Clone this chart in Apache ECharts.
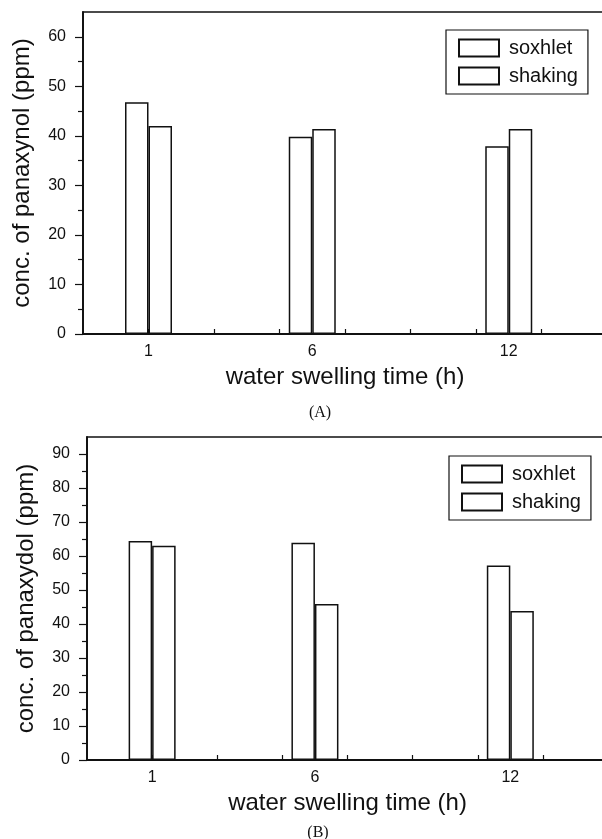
<!DOCTYPE html>
<html>
<head>
<meta charset="utf-8">
<script src="https://cdn.jsdelivr.net/npm/echarts@6/dist/echarts.min.js"></script>
<style>
  html, body { margin: 0; padding: 0; background: #fff; }
  #chart { width: 602px; height: 839px; }
</style>
</head>
<body>
<div id="chart"></div>
<script>
// 数据
var hours = [1, 6, 12];
var seriesNames = ['soxhlet', 'shaking'];
var soxhletA = [46.8, 39.8, 37.9];
var shakingA = [42.0, 41.4, 41.4];
var soxhletB = [64.4, 63.9, 57.2];
var shakingB = [63.0, 45.9, 43.8];

var xTicks = [1, 3, 5, 7, 9, 11, 13];
var yTicksA = [0, 10, 20, 30, 40, 50, 60];
var yMinorA = [5, 15, 25, 35, 45, 55];
var yTicksB = [0, 10, 20, 30, 40, 50, 60, 70, 80, 90];
var yMinorB = [5, 15, 25, 35, 45, 55, 65, 75, 85];

var FONT = '"Liberation Sans", Arial, sans-serif';
var INK = '#111';

function pairs(xs, ys) {
  return xs.map(function (x, i) { return [x, ys[i]]; });
}

function xAxisFor(gi) {
  return {
    type: 'value', gridIndex: gi, min: -1, max: 15,
    name: 'water swelling time (h)', nameLocation: 'middle', nameGap: 31,
    nameTextStyle: { fontFamily: FONT, fontSize: 24, color: INK },
    axisLine: { show: true, onZero: false, lineStyle: { color: INK, width: 1.8 } },
    axisTick: { show: true, inside: true, length: 5, customValues: xTicks, lineStyle: { color: INK, width: 1.2 } },
    axisLabel: { customValues: hours, margin: 10, fontFamily: FONT, fontSize: 16, color: INK },
    splitLine: { show: false }
  };
}

function yAxisFor(gi, max, ticks, name) {
  return {
    type: 'value', gridIndex: gi, position: 'left', min: 0, max: max,
    name: name, nameLocation: 'middle', nameGap: 49,
    nameTextStyle: { fontFamily: FONT, fontSize: 24, color: INK },
    axisLine: { show: true, onZero: false, lineStyle: { color: INK, width: 1.5 } },
    axisTick: { show: true, length: 8, customValues: ticks, lineStyle: { color: INK, width: 1.2 } },
    axisLabel: { customValues: ticks, margin: 17, fontFamily: FONT, fontSize: 16, color: INK },
    splitLine: { show: false }
  };
}

// 次刻度（5, 15, 25 ...）用第二根 y 轴画
function minorAxisFor(gi, max, ticks) {
  return {
    type: 'value', gridIndex: gi, position: 'left', min: 0, max: max,
    axisLine: { show: true, onZero: false, lineStyle: { color: INK, width: 1.5 } },
    axisTick: { show: true, length: 5, customValues: ticks, lineStyle: { color: INK, width: 1.2 } },
    axisLabel: { show: false },
    splitLine: { show: false }
  };
}

function barSeries(name, xi, yi, data) {
  return {
    name: name, type: 'bar', xAxisIndex: xi, yAxisIndex: yi,
    barWidth: 23.5, barGap: '0%',
    itemStyle: { color: '#fff', borderColor: INK, borderWidth: 1.5 },
    data: data
  };
}

function legendFor(left, top) {
  return {
    data: seriesNames, orient: 'vertical', left: left, top: top,
    icon: 'rect', itemWidth: 40, itemHeight: 17, itemGap: 8,
    padding: [8, 10, 8, 12],
    borderColor: INK, borderWidth: 1.2, backgroundColor: '#fff',
    selectedMode: false,
    textStyle: { fontFamily: FONT, fontSize: 20, color: INK, lineHeight: 17, padding: [0, 0, 0, 5] }
  };
}

var chart = echarts.init(document.getElementById('chart'));

var option = {
  animation: false,
  backgroundColor: '#fff',
  title: [
    { text: '(A)', left: 315, top: 400, textAlign: 'center',
      textStyle: { fontFamily: '"Liberation Serif", "Times New Roman", serif', fontSize: 16, fontWeight: 'normal', color: INK } },
    { text: '(B)', left: 313, top: 820, textAlign: 'center',
      textStyle: { fontFamily: '"Liberation Serif", "Times New Roman", serif', fontSize: 16, fontWeight: 'normal', color: INK } }
  ],
  grid: [
    { left: 83, top: 12, width: 524, height: 322, containLabel: false, outerBoundsMode: 'none',
      show: true, borderColor: INK, borderWidth: 1.5 },
    { left: 87, top: 437, width: 521, height: 323, containLabel: false, outerBoundsMode: 'none',
      show: true, borderColor: INK, borderWidth: 1.5 }
  ],
  legend: [legendFor(446, 30), legendFor(449, 456)],
  xAxis: [xAxisFor(0), xAxisFor(1)],
  yAxis: [
    yAxisFor(0, 65, yTicksA, 'conc. of panaxynol (ppm)'),
    minorAxisFor(0, 65, yMinorA),
    yAxisFor(1, 95, yTicksB, 'conc. of panaxydol (ppm)'),
    minorAxisFor(1, 95, yMinorB)
  ],
  series: [
    barSeries('soxhlet', 0, 0, pairs(hours, soxhletA)),
    barSeries('shaking', 0, 0, pairs(hours, shakingA)),
    barSeries('soxhlet', 1, 2, pairs(hours, soxhletB)),
    barSeries('shaking', 1, 2, pairs(hours, shakingB))
  ]
};

chart.setOption(option);
</script>
</body>
</html>
